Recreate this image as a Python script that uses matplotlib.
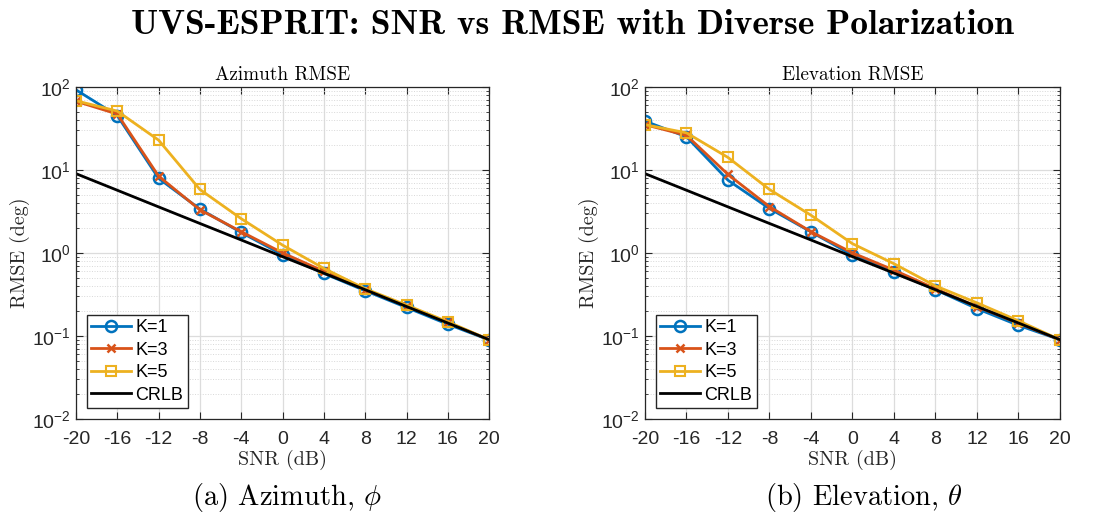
import numpy as np
import matplotlib
matplotlib.use("Agg")
import matplotlib.pyplot as plt
from matplotlib.ticker import FixedLocator, LogLocator, NullFormatter

plt.rcParams["mathtext.fontset"] = "cm"
plt.rcParams["axes.unicode_minus"] = False

snr = [-20, -16, -12, -8, -4, 0, 4, 8, 12, 16, 20]
xtick_labels = ["-20", "-16", "-12", "-8", "-4", "0", "4", "8", "12", "16", "20"]

# Azimuth RMSE (deg)
az_k1 = [92, 45, 7.9, 3.37, 1.76, 0.95, 0.565, 0.35, 0.22, 0.138, 0.0895]
az_k3 = [67, 47, 8.4, 3.3, 1.8, 1.0, 0.60, 0.36, 0.23, 0.145, 0.09]
az_k5 = [68, 51, 22.8, 5.8, 2.58, 1.24, 0.65, 0.37, 0.235, 0.148, 0.09]
# Elevation RMSE (deg)
el_k1 = [38.6, 25, 7.5, 3.42, 1.79, 0.94, 0.59, 0.36, 0.213, 0.134, 0.09]
el_k3 = [35, 26, 8.8, 3.6, 1.8, 1.0, 0.62, 0.37, 0.225, 0.142, 0.09]
el_k5 = [35, 27.9, 14.1, 5.8, 2.84, 1.29, 0.74, 0.40, 0.25, 0.152, 0.09]
# CRLB (same for both)
crlb = [9.0, 5.68, 3.58, 2.26, 1.43, 0.90, 0.57, 0.36, 0.226, 0.143, 0.09]

ytick_vals = [1e-2, 1e-1, 1e0, 1e1, 1e2]
ytick_labels = [r"$\mathregular{10^{-2}}$", r"$\mathregular{10^{-1}}$",
                r"$\mathregular{10^{0}}$", r"$\mathregular{10^{1}}$",
                r"$\mathregular{10^{2}}$"]

BLUE, ORANGE, YELLOW = "#0072BD", "#D95319", "#EDB120"
GRAY = "#262626"
SANS = "Liberation Sans"

fig = plt.figure(figsize=(10.96, 5.23), dpi=100)
ax1 = fig.add_axes([0.0693, 0.199, 0.377, 0.635])
ax2 = fig.add_axes([0.5885, 0.199, 0.3786, 0.635])


def draw(ax, k1, k3, k5, title):
    ax.plot(snr, k1, color=BLUE, marker="o", mfc="none", ms=8, mew=1.8, lw=2, label="K=1")
    ax.plot(snr, k3, color=ORANGE, marker="x", ms=6, mew=1.8, lw=2, label="K=3")
    ax.plot(snr, k5, color=YELLOW, marker="s", mfc="none", ms=7, mew=1.5, lw=2, label="K=5")
    ax.plot(snr, crlb, color="black", lw=2, label="CRLB")
    ax.set_yscale("log")
    ax.set_xlim(-20, 20)
    ax.set_ylim(1e-2, 1e2)
    ax.set_xticks(snr)
    ax.set_xticklabels(xtick_labels, fontfamily=SANS, fontsize=14, color=GRAY)
    ax.yaxis.set_major_locator(FixedLocator(ytick_vals))
    ax.set_yticklabels(ytick_labels, fontfamily=SANS, fontsize=14, color=GRAY)
    ax.yaxis.set_minor_locator(LogLocator(base=10, subs=np.arange(2, 10)))
    ax.yaxis.set_minor_formatter(NullFormatter())
    ax.tick_params(which="both", direction="in", top=True, right=True, color=GRAY)
    ax.tick_params(which="major", length=5, width=0.8)
    ax.tick_params(axis="x", which="major", pad=9)
    ax.tick_params(axis="y", which="major", pad=4)
    ax.tick_params(which="minor", length=2.5, width=0.6)
    ax.grid(True, which="major", color="#dcdcdc", lw=0.9)
    ax.grid(True, which="minor", axis="y", color="#d8d8d8", lw=0.7, ls=":")
    ax.set_axisbelow(True)
    for s in ax.spines.values():
        s.set_color(GRAY)
        s.set_linewidth(0.9)
    ax.set_xlabel("SNR (dB)", fontfamily="cmr10", fontsize=14.5, color=GRAY, labelpad=1)
    ax.set_ylabel("RMSE (deg)", fontfamily="cmr10", fontsize=14.5, color=GRAY, labelpad=1)
    ax.set_title(title, fontfamily="cmr10", fontsize=13.8, color="black", pad=5)
    leg = ax.legend(loc="lower left", prop={"family": SANS, "size": 13},
                    fancybox=False, framealpha=1, edgecolor=GRAY,
                    handlelength=2.2, handletextpad=0.25, borderpad=0.25,
                    labelspacing=0.3, borderaxespad=0.6)
    leg.get_frame().set_linewidth(1.0)


draw(ax1, az_k1, az_k3, az_k5, "Azimuth RMSE")
draw(ax2, el_k1, el_k3, el_k5, "Elevation RMSE")

fig.text(0.522, 0.951, "UVS-ESPRIT: SNR vs RMSE with Diverse Polarization",
         ha="center", va="center", fontfamily="cmb10", fontsize=25.5)
fig.text(0.2615, 0.048, r"(a) Azimuth, $\phi$", ha="center", va="center",
         fontfamily="cmr10", fontsize=20.5)
fig.text(0.7885, 0.048, r"(b) Elevation, $\theta$", ha="center", va="center",
         fontfamily="cmr10", fontsize=20.5)

fig.savefig("out.png", dpi=100)
